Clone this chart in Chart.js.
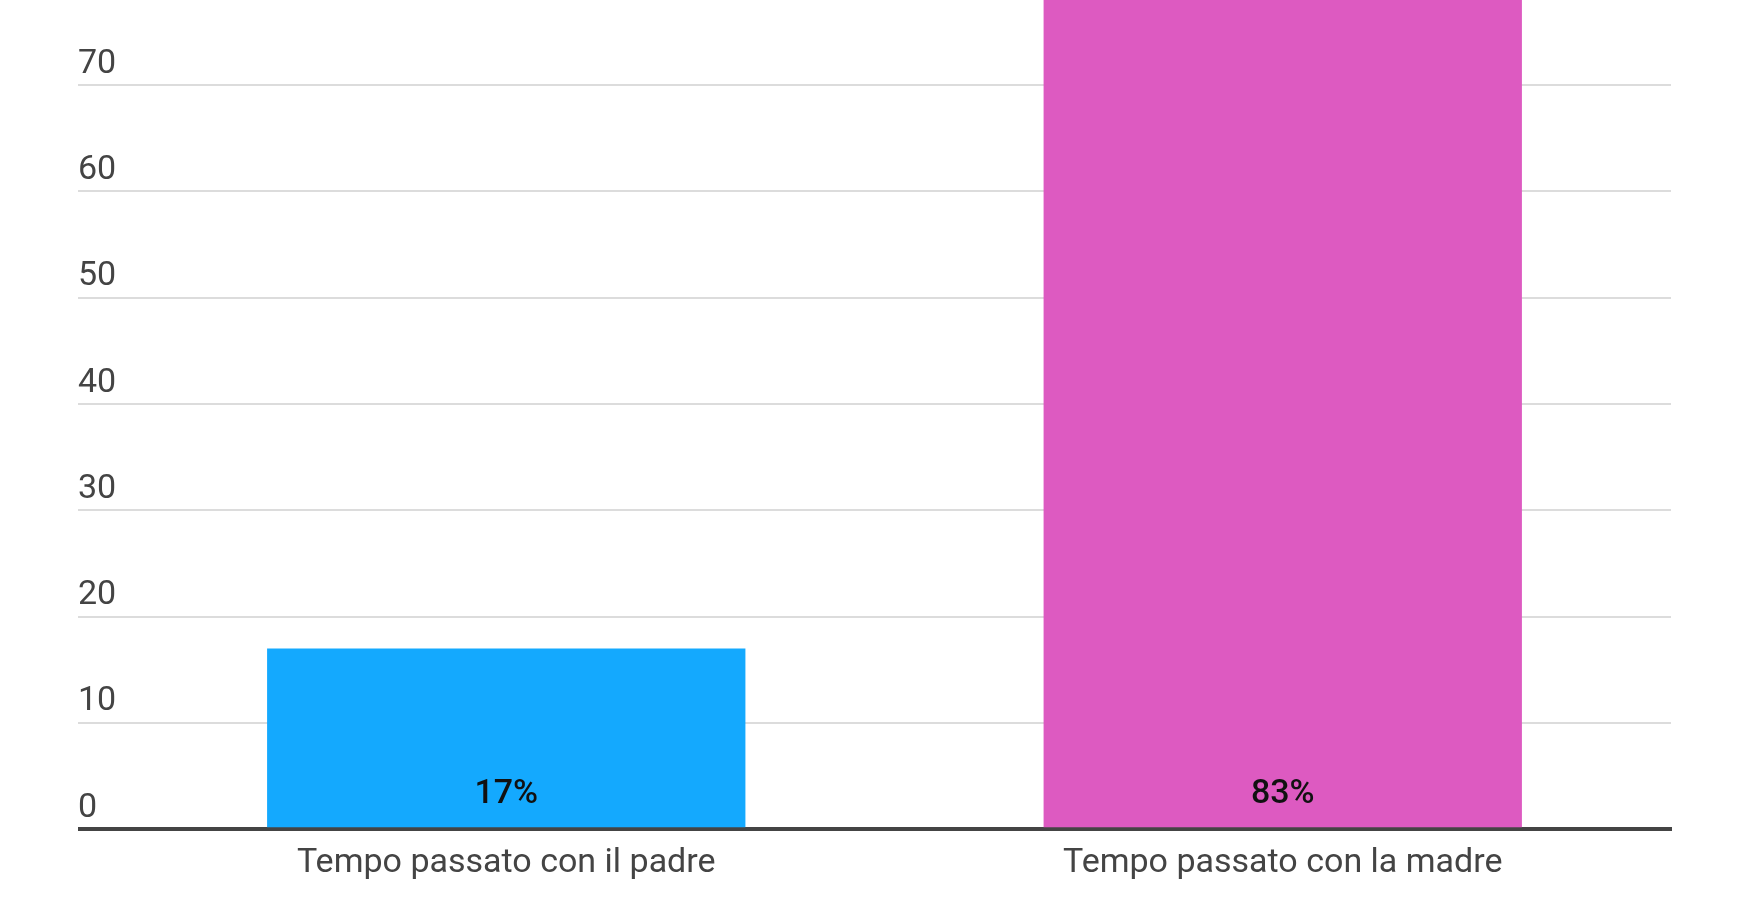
<!DOCTYPE html>
<html>
<head>
<meta charset="utf-8">
<script src="https://cdn.jsdelivr.net/npm/chart.js@4/dist/chart.umd.min.js"></script>
<style>
  html, body { margin: 0; padding: 0; background: #fff; }
  #wrap { width: 1750px; height: 900px; }
</style>
</head>
<body>
<div id="wrap"><canvas id="chart" width="1750" height="900"></canvas></div>
<script>
// data
const categories = ['Tempo passato con il padre', 'Tempo passato con la madre'];
const shareValues = [17, 83];
const yTickStep = 10;

// bar value labels, drawn just above the base of each bar
const barLabels = {
    id: 'barLabels',
    afterDatasetsDraw(chart) {
        const ctx = chart.ctx;
        const meta = chart.getDatasetMeta(0);
        ctx.save();
        ctx.font = '500 34px Roboto';
        ctx.fillStyle = '#111';
        ctx.textAlign = 'center';
        ctx.textBaseline = 'alphabetic';
        meta.data.forEach((bar, i) => {
            ctx.fillText(shareValues[i] + '%', bar.x, bar.base - 24);
        });
        ctx.restore();
    }
};

const ctx = document.getElementById('chart').getContext('2d');
new Chart(ctx, {
    type: 'bar',
    data: {
        labels: categories,
        datasets: [{
            data: shareValues,
            backgroundColor: ['#14a9fe', '#dd5ac1'],
            borderWidth: 0,
            categoryPercentage: 1,
            barPercentage: 0.616
        }]
    },
    options: {
        responsive: false,
        animation: false,
        devicePixelRatio: 1,
        layout: { padding: { left: 78, right: 79, top: 0, bottom: 0 } },
        plugins: {
            legend: { display: false },
            tooltip: { enabled: false }
        },
        scales: {
            x: {
                z: 1,
                grid: { display: false, drawTicks: false },
                border: { display: true, color: '#444', width: 4 },
                ticks: {
                    color: '#444',
                    font: { family: 'Roboto', size: 34 },
                    padding: 14,
                    maxRotation: 0
                },
                afterFit(scale) {
                    scale.height = 70.7;
                    scale.paddingLeft = 0;
                    scale.paddingRight = 0;
                }
            },
            y: {
                min: 0,
                max: 78,
                border: { display: false },
                grid: {
                    color: c => c.tick && c.tick.value === 0 ? '#444' : '#dcdcdc',
                    lineWidth: c => c.tick && c.tick.value === 0 ? 4 : 2,
                    drawTicks: true,
                    tickLength: 40
                },
                ticks: {
                    stepSize: yTickStep,
                    color: '#444',
                    font: { family: 'Roboto', size: 34 },
                    crossAlign: 'far',
                    padding: 0,
                    labelOffset: -21
                },
                afterBuildTicks(scale) {
                    scale.ticks = scale.ticks.filter(t => t.value % yTickStep === 0);
                },
                afterFit(scale) {
                    scale.width = 40;
                    scale.paddingTop = 0;
                    scale.paddingBottom = 0;
                }
            }
        }
    },
    plugins: [barLabels]
});
</script>
</body>
</html>
